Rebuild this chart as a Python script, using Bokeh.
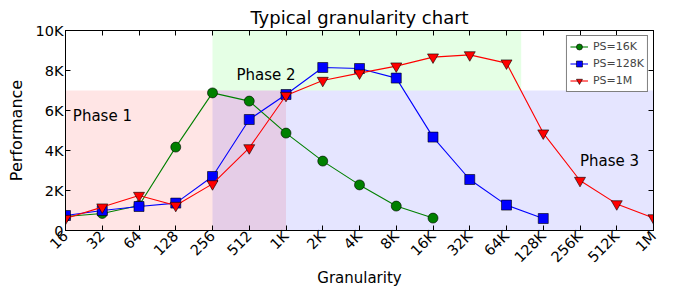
import math
from bokeh.plotting import figure
from bokeh.models import FixedTicker, LinearAxis, Legend, LegendItem, ColumnDataSource, Range1d
from bokeh.core.properties import value
from bokeh.embed import file_html
from bokeh.resources import INLINE

categories = ["16", "32", "64", "128", "256", "512", "1K", "2K", "4K", "8K",
              "16K", "32K", "64K", "128K", "256K", "512K", "1M"]

ps16k_cats = ["16", "32", "64", "128", "256", "512", "1K", "2K", "4K", "8K", "16K"]
ps16k_vals = [700, 850, 1250, 4170, 6880, 6470, 4870, 3470, 2280, 1220, 620]

ps128k_cats = ["16", "32", "64", "128", "256", "512", "1K", "2K", "4K", "8K",
               "16K", "32K", "64K", "128K"]
ps128k_vals = [750, 1000, 1200, 1370, 2700, 5550, 6800, 8150, 8100, 7620,
               4670, 2550, 1270, 600]

ps1m_cats = categories
ps1m_vals = [600, 1170, 1750, 1250, 2330, 4130, 6750, 7500, 7870, 8220,
             8670, 8780, 8370, 4870, 2500, 1330, 630]

y_ticks = [0, 2000, 4000, 6000, 8000, 10000]
y_tick_labels = ["0", "2K", "4K", "6K", "8K", "10K"]

phase_labels = ["Phase 1", "Phase 2", "Phase 3"]

FONT = "DejaVu Sans"
idx = {c: i for i, c in enumerate(categories)}

p = figure(width=678, height=293, output_backend="svg", toolbar_location=None,
           x_range=Range1d(0, len(categories) - 1), y_range=Range1d(0, 10000),
           min_border_left=65, min_border_right=25, min_border_top=30, min_border_bottom=63)

p.title.text = "Typical granularity chart"
p.title.align = "center"
p.title.text_font = FONT
p.title.text_font_size = "18px"
p.title.text_font_style = "normal"
p.title.text_color = "black"
p.title.standoff = 6

p.xgrid.visible = False
p.ygrid.visible = False
p.outline_line_color = "black"
p.outline_line_width = 1
p.background_fill_color = "white"

# shaded phases
p.quad(left=[0], right=[idx["1K"]], bottom=[0], top=[7000], fill_color="red", fill_alpha=0.1, line_alpha=0)
p.quad(left=[idx["256"]], right=[idx["1M"]], bottom=[0], top=[7000], fill_color="blue", fill_alpha=0.1, line_alpha=0)
p.quad(left=[idx["256"]], right=[12.4], bottom=[7000], top=[10000], fill_color="lime", fill_alpha=0.1, line_alpha=0)

p.text(x=[0.2], y=[5750], text=[phase_labels[0]], text_font=value(FONT), text_font_size="15px",
       text_baseline="middle", text_color="black")
p.text(x=[4.65], y=[7800], text=[phase_labels[1]], text_font=value(FONT), text_font_size="15px",
       text_baseline="middle", text_color="black")
p.text(x=[14.0], y=[3500], text=[phase_labels[2]], text_font=value(FONT), text_font_size="15px",
       text_baseline="middle", text_color="black")

s1 = ColumnDataSource(dict(x=[idx[c] for c in ps16k_cats], y=ps16k_vals))
s2 = ColumnDataSource(dict(x=[idx[c] for c in ps128k_cats], y=ps128k_vals))
s3 = ColumnDataSource(dict(x=[idx[c] for c in ps1m_cats], y=ps1m_vals))

l1 = p.line("x", "y", source=s1, color="green", line_width=1.1)
m1 = p.scatter("x", "y", source=s1, marker="circle", size=10, fill_color="green", line_color="black", line_width=0.6)
l2 = p.line("x", "y", source=s2, color="blue", line_width=1.1)
m2 = p.scatter("x", "y", source=s2, marker="square", size=10, fill_color="blue", line_color="black", line_width=0.6)
l3 = p.line("x", "y", source=s3, color="red", line_width=1.1)
m3 = p.scatter("x", "y", source=s3, marker="inverted_triangle", size=11, fill_color="red", line_color="black", line_width=0.6)

legend = Legend(items=[LegendItem(label="PS=16K", renderers=[l1, m1]),
                       LegendItem(label="PS=128K", renderers=[l2, m2]),
                       LegendItem(label="PS=1M", renderers=[l3, m3])],
                location="top_right", margin=5, padding=3, spacing=2,
                label_text_font=FONT, label_text_font_size="11px",
                glyph_height=15, glyph_width=18, label_height=15, label_standoff=5,
                border_line_color="black", border_line_width=1.5,
                background_fill_alpha=1)
p.add_layout(legend)

def style_axis(ax):
    ax.major_tick_in = 5
    ax.major_tick_out = 0
    ax.minor_tick_in = 0
    ax.minor_tick_out = 0
    ax.axis_line_color = "black"
    ax.major_label_text_font = FONT
    ax.major_label_text_font_size = "14.5px"
    ax.major_label_text_color = "black"
    ax.axis_label_text_font = FONT
    ax.axis_label_text_font_size = "15px"
    ax.axis_label_text_font_style = "normal"
    ax.axis_label_text_color = "black"

xa = p.xaxis[0]
xa.ticker = FixedTicker(ticks=list(range(len(categories))))
xa.major_label_overrides = {i: c for i, c in enumerate(categories)}
xa.major_label_orientation = math.pi / 4
xa.major_label_standoff = 3
xa.axis_label = "Granularity"
xa.axis_label_standoff = -5
style_axis(xa)

ya = p.yaxis[0]
ya.ticker = FixedTicker(ticks=y_ticks)
ya.major_label_overrides = {t: l for t, l in zip(y_ticks, y_tick_labels)}
ya.major_label_standoff = 2
ya.axis_label = "Performance"
ya.axis_label_standoff = 7
style_axis(ya)
ya.axis_label_text_font_size = "16px"

top = LinearAxis(ticker=FixedTicker(ticks=list(range(len(categories)))))
style_axis(top)
top.major_label_overrides = {i: "" for i in range(len(categories))}
top.major_label_standoff = 0
p.add_layout(top, "above")

right = LinearAxis(ticker=FixedTicker(ticks=y_ticks))
style_axis(right)
right.major_label_overrides = {t: "" for t in y_ticks}
right.major_label_standoff = 0
p.add_layout(right, "right")

open("out.html", "w").write(file_html(p, INLINE))
